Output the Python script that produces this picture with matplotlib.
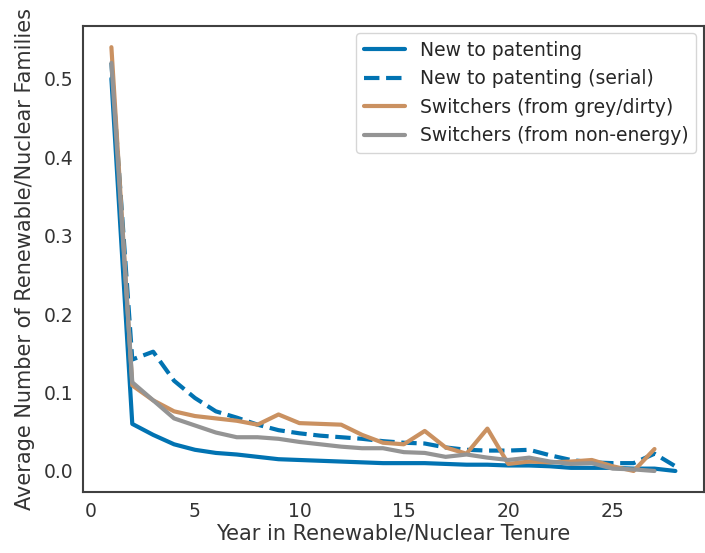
import matplotlib
matplotlib.use("Agg")
import matplotlib.pyplot as plt
import seaborn as sns

# Average number of renewable/nuclear families by year of tenure
years_new = list(range(1, 29))
new_to_patenting = [0.50, 0.060, 0.046, 0.034, 0.027, 0.023, 0.021, 0.018, 0.015, 0.014,
                    0.013, 0.012, 0.011, 0.010, 0.010, 0.010, 0.009, 0.008, 0.008, 0.007,
                    0.007, 0.006, 0.004, 0.004, 0.004, 0.003, 0.003, 0.000]
new_serial = [0.52, 0.142, 0.152, 0.115, 0.093, 0.076, 0.068, 0.059, 0.052, 0.048,
              0.045, 0.043, 0.041, 0.038, 0.036, 0.035, 0.030, 0.027, 0.026, 0.026,
              0.027, 0.020, 0.014, 0.011, 0.010, 0.010, 0.022, 0.006]

years_sw = list(range(1, 28))
switch_dirty = [0.54, 0.109, 0.090, 0.076, 0.070, 0.067, 0.064, 0.059, 0.072, 0.061,
                0.060, 0.059, 0.046, 0.036, 0.034, 0.051, 0.030, 0.022, 0.054, 0.009,
                0.012, 0.011, 0.012, 0.014, 0.006, 0.000, 0.028]
switch_nonenergy = [0.52, 0.113, 0.090, 0.067, 0.058, 0.049, 0.043, 0.043, 0.041, 0.037,
                    0.034, 0.031, 0.029, 0.029, 0.024, 0.023, 0.018, 0.021, 0.017, 0.014,
                    0.017, 0.012, 0.009, 0.010, 0.003, 0.002, 0.000]

sns.set_style("white")
plt.rcParams["font.family"] = ["DejaVu Sans"]

pal = sns.color_palette("colorblind")
blue, tan, grey = pal[0], pal[5], pal[7]

fig = plt.figure(figsize=(7.05, 5.53), dpi=100)
ax = fig.add_axes([0.118, 0.110, 0.880, 0.843])

ax.plot(years_new, new_to_patenting, color=blue, lw=3, label="New to patenting")
ax.plot(years_new, new_serial, color=blue, lw=3, ls="--", label="New to patenting (serial)")
ax.plot(years_sw, switch_dirty, color=tan, lw=3, label="Switchers (from grey/dirty)")
ax.plot(years_sw, switch_nonenergy, color=grey, lw=3, label="Switchers (from non-energy)")

ax.set_xlabel("Year in Renewable/Nuclear Tenure", fontsize=15, color=".2", labelpad=2)
ax.set_ylabel("Average Number of Renewable/Nuclear Families", fontsize=15, color=".2", labelpad=6)
ax.tick_params(labelsize=13.5, colors=".2")
for sp in ax.spines.values():
    sp.set_linewidth(1.5)
    sp.set_color(".25")
ax.legend(loc="upper right", fontsize=13.5, handlelength=2.2, borderaxespad=0.4)

fig.savefig("out.png", dpi=100)
